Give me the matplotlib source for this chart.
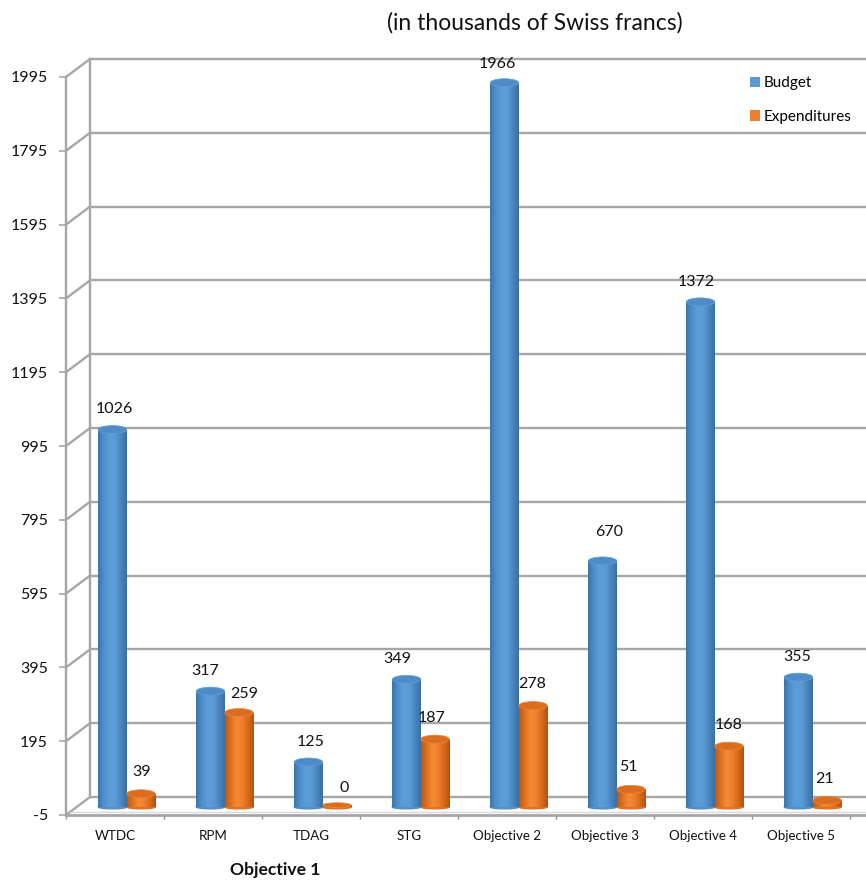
import numpy as np
import matplotlib
matplotlib.use("Agg")
import matplotlib.pyplot as plt
from matplotlib.colors import LinearSegmentedColormap
from matplotlib.patches import Ellipse, Patch

categories = ["WTDC", "RPM", "TDAG", "STG", "Objective 2", "Objective 3", "Objective 4", "Objective 5"]
budget = [1026, 317, 125, 349, 1966, 670, 1372, 355]
expenditures = [39, 259, 0, 187, 278, 51, 168, 21]
y_ticks = [-5, 195, 395, 595, 795, 995, 1195, 1395, 1595, 1795, 1995]

# label offsets from the bar top, in pixels (dx, dy)
budget_label_offsets = [(1.5, 17.5), (-5, 17.5), (2, 17.5), (-9, 17.5), (-7, 15.5), (7, 25.5), (-4, 16.5), (-1, 17.5)]
expend_label_offsets = [(1, 18.5), (5, 15.5), (7, 17.5), (-3, 18.5), (-1, 18.5), (-3, 19.5), (0, 18.5), (-2, 18)]

W, H = 866, 886
PX = 72 / 100  # pixels to points
plt.rcParams["font.family"] = ["Lato", "DejaVu Sans"]

fig = plt.figure(figsize=(W / 100, H / 100), dpi=100)
left, right, top_px, bottom_px = 66, 866, 50, 815
ax = fig.add_axes([left / W, 1 - bottom_px / H, (right - left) / W, (bottom_px - top_px) / H])

px_per_unit = (815 - 77) / 2000
px_per_cat = 98
xlim = (-0.5, -0.5 + (right - left) / px_per_cat)
ylim = (-5, -5 + (bottom_px - top_px) / px_per_unit)
grid_col = "#a6a6a6"
grid_lw = 1.7

# depth offsets of the pseudo-3D box
back_dx, back_dy = 24 / px_per_cat, 18 / px_per_unit
bar_dy = 8 / px_per_unit
top_inset = 3 / px_per_unit
ell_h = 8 / px_per_unit
bar_w = 28.5 / px_per_cat
blue_dx, orange_dx = -2.5 / px_per_cat, 26 / px_per_cat

# walls and gridlines
for t in y_ticks:
    ax.plot([xlim[0] + back_dx, xlim[1]], [t + back_dy, t + back_dy], color=grid_col, lw=grid_lw,
            zorder=1, solid_capstyle="butt", clip_on=False)
    ax.plot([xlim[0], xlim[0] + back_dx], [t, t + back_dy], color=grid_col, lw=grid_lw, zorder=1, clip_on=False)
ax.plot([xlim[0] + back_dx] * 2, [-5 + back_dy, 1995 + back_dy], color=grid_col, lw=grid_lw, zorder=1)
ax.plot([xlim[0] + 4 / px_per_cat, xlim[1]], [-5 + 3 / px_per_unit] * 2, color="#d9d9d9", lw=1.0, zorder=1)

blue_cm = LinearSegmentedColormap.from_list("b", ["#3d74ab", "#4f8fcb", "#5c9ddb", "#5b9bd5", "#4a86c0", "#3a6ea3"])
orange_cm = LinearSegmentedColormap.from_list("o", ["#b85a17", "#e0711f", "#f58a35", "#ef7f2c", "#d9691c", "#b35312"])
grad = np.linspace(0, 1, 64).reshape(1, -1)


def cylinders(values, dx, cmap, top_col, rim_col, base_col):
    xs = np.arange(len(values)) + dx
    base = -5 + bar_dy
    heights = np.maximum(np.array(values) + 5.0 - top_inset, 5.0)
    bars = ax.bar(xs, heights, width=bar_w, bottom=base, color=base_col, zorder=3)
    for x, h, b, v in zip(xs, heights, bars, values):
        ax.add_patch(Ellipse((x, base), bar_w, ell_h * 0.45, color=base_col, zorder=3))
        im = ax.imshow(grad, extent=(x - bar_w / 2, x + bar_w / 2, base, base + h),
                       cmap=cmap, aspect="auto", zorder=3.2, interpolation="bilinear")
        im.set_clip_path(b)
        ax.add_patch(Ellipse((x, base + h), bar_w, ell_h * (0.6 if v == 0 else 1),
                             facecolor=top_col, edgecolor=rim_col, lw=0.5, zorder=3.4))
    return xs


xs_b = cylinders(budget, blue_dx, blue_cm, "#4f8cc7", "#5f9fdc", "#4f8fcb")
xs_o = cylinders(expenditures, orange_dx, orange_cm, "#dc6c1f", "#ee8436", "#e0711f")

for xs, vals, offs in [(xs_b, budget, budget_label_offsets), (xs_o, expenditures, expend_label_offsets)]:
    for x, v, (ox, oy) in zip(xs, vals, offs):
        ax.annotate(str(v), xy=(x, v + bar_dy), xytext=(ox * PX, oy * PX), textcoords="offset points",
                    ha="center", va="center", fontsize=11.5, color="#111111", zorder=5,
                    annotation_clip=False)

ax.set_xlim(xlim)
ax.set_ylim(ylim)
ax.set_yticks(y_ticks)
ax.set_yticklabels([str(t) for t in y_ticks], fontsize=11.5, color="#111111")
ax.set_xticks(range(len(categories)))
ax.set_xticklabels(categories, fontsize=9.6, color="#111111")
ax.set_xticks(np.arange(len(categories) + 1) - 0.5, minor=True)
ax.tick_params(axis="x", which="major", length=0, pad=11)
ax.tick_params(axis="x", which="minor", length=3, width=1, color="#8c8c8c")
ax.tick_params(axis="y", length=5, width=1.2, color=grid_col, pad=8)
for s in ("top", "right"):
    ax.spines[s].set_visible(False)
ax.spines["left"].set_bounds(-5, 1995)
ax.spines["left"].set_color(grid_col)
ax.spines["left"].set_linewidth(grid_lw)
ax.spines["bottom"].set_color(grid_col)
ax.spines["bottom"].set_linewidth(2.0)

handles = [Patch(facecolor="#5b9bd5", label="Budget"), Patch(facecolor="#ed7d31", label="Expenditures")]
ax.legend(handles=handles, loc="upper left",
          bbox_to_anchor=((750 - left) / (right - left), 1 - (76 - top_px) / (bottom_px - top_px)),
          frameon=False, fontsize=11, handlelength=0.65, handleheight=0.65, handletextpad=0.25,
          labelspacing=1.3, borderaxespad=0, borderpad=0)

fig.text(535 / W, 1 - 23 / H, "(in thousands of Swiss francs)", ha="center", va="center",
         fontsize=16.5, family=["Lato", "DejaVu Sans"], color="#111111")
fig.text(275 / W, 1 - 870 / H, "Objective 1", ha="center", va="center", fontsize=12.6,
         fontweight="bold", color="#111111")

fig.savefig("out.png", dpi=100)
